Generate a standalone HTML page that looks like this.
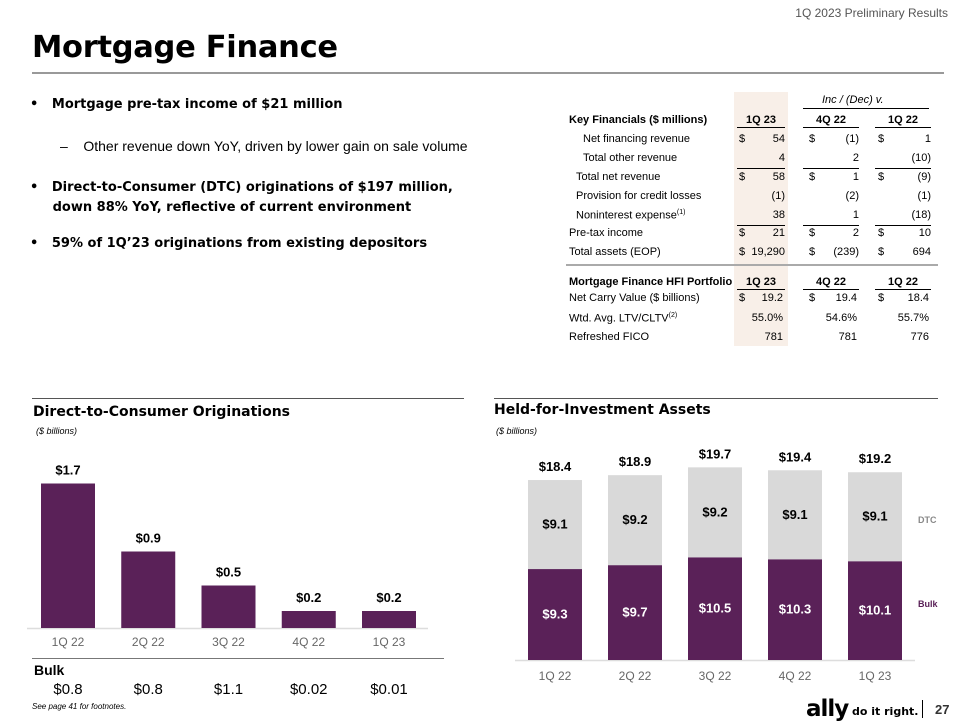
<!DOCTYPE html>
<html><head><meta charset="utf-8">
<style>
body{margin:0;width:960px;height:720px;position:relative;background:#fff;font-family:"Liberation Sans",Arial,sans-serif;overflow:hidden;color:#000}
.a{position:absolute;white-space:nowrap}
.t{font-size:11px}
.r{text-align:right}
.b{font-weight:bold}
.ul{border-bottom:1px solid #000}
</style></head><body>
<div class="a" style="right:12px;top:6px;font-size:12px;color:#555">1Q 2023 Preliminary Results</div>
<div class="a b" style="left:32px;top:30px;font-size:30.5px;font-family:'DejaVu Sans',sans-serif;letter-spacing:-0.3px">Mortgage Finance</div>
<div class="a" style="left:32px;top:72px;width:912px;height:2px;background:#999"></div>

<div class="a b" style="left:30px;top:97px;font-size:13px;font-family:'DejaVu Sans',sans-serif">•&nbsp;&nbsp;&nbsp;Mortgage pre-tax income of $21 million</div>
<div class="a" style="left:60px;top:138px;font-size:14px">–&nbsp;&nbsp;&nbsp;&nbsp;Other revenue down YoY, driven by lower gain on sale volume</div>
<div class="a b" style="left:30px;top:178px;font-size:13px;font-family:'DejaVu Sans',sans-serif;line-height:20px">•&nbsp;&nbsp;&nbsp;Direct-to-Consumer (DTC) originations of $197 million,<br>&nbsp;&nbsp;&nbsp;&nbsp;&nbsp;down 88% YoY, reflective of current environment</div>
<div class="a b" style="left:30px;top:236px;font-size:13px;font-family:'DejaVu Sans',sans-serif">•&nbsp;&nbsp;&nbsp;59% of 1Q’23 originations from existing depositors</div>

<div>
<div class="a" style="left:734px;top:92px;width:54px;height:254px;background:#f8efe8"></div>
<div class="a t" style="left:822px;top:94px;font-style:italic">Inc / (Dec) v.</div>
<div class="a" style="left:803px;top:108px;width:126px;height:1px;background:#000"></div>
<div id="tbl"></div>
<div class="a" style="left:566px;top:264px;width:372px;height:2px;background:#aaa"></div>
</div>

<div class="a" style="left:32px;top:398px;width:432px;height:1px;background:#555"></div>
<div class="a b" style="left:33px;top:404px;font-size:14px;font-family:'DejaVu Sans',sans-serif">Direct-to-Consumer Originations</div>
<div class="a" style="left:36px;top:426px;font-size:9px;font-style:italic">($ billions)</div>
<svg class="a" style="left:0;top:0" width="960" height="720" id="charts"></svg>
<div class="a" style="left:32px;top:658px;width:412px;height:1px;background:#777"></div>
<div class="a b" style="left:34px;top:662px;font-size:14px">Bulk</div>
<div class="a" style="left:32px;top:702px;font-size:8px;font-style:italic">See page 41 for footnotes.</div>

<div class="a" style="left:494px;top:398px;width:444px;height:1px;background:#555"></div>
<div class="a b" style="left:494px;top:402px;font-size:14px;font-family:'DejaVu Sans',sans-serif">Held-for-Investment Assets</div>
<div class="a" style="left:496px;top:426px;font-size:9px;font-style:italic">($ billions)</div>

<div class="a b" style="left:806px;top:696px;font-size:23px;font-family:'DejaVu Sans',sans-serif;letter-spacing:-1px">ally</div>
<div class="a b" style="left:852px;top:705px;font-size:11px;font-family:'DejaVu Sans',sans-serif">do it right.</div>
<div class="a" style="left:922px;top:700px;width:1px;height:18px;background:#000"></div>
<div class="a b" style="left:935px;top:702px;font-size:13px;color:#333">27</div>

<script>
const cats=["1Q 22","2Q 22","3Q 22","4Q 22","1Q 23"];
const dtcValues=[1.7,0.9,0.5,0.2,0.2];
const bulkOrig=["$0.8","$0.8","$1.1","$0.02","$0.01"];
const hfiBulk=[9.3,9.7,10.5,10.3,10.1];
const hfiDtc=[9.1,9.2,9.2,9.1,9.1];
const hfiTotal=[18.4,18.9,19.7,19.4,19.2];

const NS="http://www.w3.org/2000/svg";
const svg=document.getElementById('charts');
function mk(tag,attrs,txt){const e=document.createElementNS(NS,tag);for(const k in attrs)e.setAttribute(k,attrs[k]);if(txt!==undefined)e.textContent=txt;svg.appendChild(e);return e;}
const PURPLE="#5a2158";
const dX=i=>41+i*80.25, dW=54, dBase=628, dY=v=>dBase-v*85;
mk('line',{x1:27,x2:428,y1:dBase+0.5,y2:dBase+0.5,stroke:'#ddd','stroke-width':1.5});
dtcValues.forEach((v,i)=>{
  const r=mk('rect',{x:dX(i),y:dY(v),width:dW,height:dBase-dY(v),fill:PURPLE});
  
  
  const t=mk('text',{x:dX(i)+dW/2,y:dY(v)-9,'text-anchor':'middle','font-size':13,'font-weight':'bold'},'$'+v.toFixed(1));
  
  
  const c=mk('text',{x:dX(i)+dW/2,y:dBase+18,'text-anchor':'middle','font-size':12,fill:'#666'},cats[i]);
  
  
  const b=mk('text',{x:dX(i)+dW/2,y:694,'text-anchor':'middle','font-size':15},bulkOrig[i]);
  
  
});
const hX=i=>528+i*80, hW=54, hBase=660, hY=v=>hBase-v*9.78;
mk('line',{x1:515,x2:915,y1:hBase+0.5,y2:hBase+0.5,stroke:'#ddd','stroke-width':1.5});
hfiBulk.forEach((b,i)=>{
  const d=hfiDtc[i], tot=hfiTotal[i];
  const r1=mk('rect',{x:hX(i),y:hY(b),width:hW,height:hBase-hY(b),fill:PURPLE});
  
  
  const r2=mk('rect',{x:hX(i),y:hY(tot),width:hW,height:hY(b)-hY(tot),fill:'#d9d9d9'});
  
  
  const t1=mk('text',{x:hX(i)+hW/2,y:(hY(b)+hBase)/2+4,'text-anchor':'middle','font-size':13,'font-weight':'bold',fill:'#fff'},'$'+b.toFixed(1));
  
  
  const t2=mk('text',{x:hX(i)+hW/2,y:(hY(b)+hY(tot))/2+4,'text-anchor':'middle','font-size':13,'font-weight':'bold'},'$'+d.toFixed(1));
  
  
  const t3=mk('text',{x:hX(i)+hW/2,y:hY(tot)-9,'text-anchor':'middle','font-size':13,'font-weight':'bold'},'$'+tot.toFixed(1));
  
  
  const c=mk('text',{x:hX(i)+hW/2,y:hBase+20,'text-anchor':'middle','font-size':12,fill:'#666'},cats[i]);
  
  
});
const l1=mk('text',{x:918,y:523,'font-size':9,'font-weight':'bold',fill:'#888'},'DTC');


const l2=mk('text',{x:918,y:607,'font-size':9,'font-weight':'bold',fill:PURPLE},'Bulk');



const tbl=document.getElementById('tbl');
function cell(x,y,txt,cls,w,extra){const d=document.createElement('div');d.className='a t '+(cls||'');d.style.left=x+'px';d.style.top=y+'px';if(w)d.style.width=w+'px';if(extra)d.style.cssText+=extra;d.innerHTML=txt;tbl.appendChild(d);}
const rows=[
 ["Net financing revenue",583,"$","54","$","(1)","$","1",0],
 ["Total other revenue",583,"","4","","2","","(10)",1],
 ["Total net revenue",576,"$","58","$","1","$","(9)",0],
 ["Provision for credit losses",576,"","(1)","","(2)","","(1)",0],
 ["Noninterest expense<sup style='font-size:7px'>(1)</sup>",576,"","38","","1","","(18)",1],
 ["Pre-tax income",569,"$","21","$","2","$","10",0],
 ["Total assets (EOP)",569,"$","19,290","$","(239)","$","694",0]];
const ys=[133,152,171,190,209,227,246];
function hdr(y,label){
 cell(569,y,label,'b');
 cell(737,y,'1Q 23','b ul',48,'text-align:center;padding-bottom:1px');
 cell(803,y,'4Q 22','b ul',56,'text-align:center;padding-bottom:1px');
 cell(875,y,'1Q 22','b ul',56,'text-align:center;padding-bottom:1px');
}
hdr(114,'Key Financials ($ millions)');
rows.forEach((r,i)=>{const y=ys[i];
 cell(r[1],y,r[0]);
 const ul=r[8]?'border-bottom:1px solid #000;padding-bottom:4px;':'';
 cell(739,y,r[2]);cell(737,y,r[3],'r',48,ul);
 cell(809,y,r[4]);cell(803,y,r[5],'r',56,ul);
 cell(878,y,r[6]);cell(875,y,r[7],'r',56,ul);
});
hdr(276,'Mortgage Finance HFI Portfolio');
const rows2=[["Net Carry Value ($ billions)","$","19.2","$","19.4","$","18.4"],
 ["Wtd. Avg. LTV/CLTV<sup style='font-size:7px'>(2)</sup>","","55.0%","","54.6%","","55.7%"],
 ["Refreshed FICO","","781","","781","","776"]];
[292,312,331].forEach((y,i)=>{const r=rows2[i];
 cell(569,y,r[0]);cell(739,y,r[1]);cell(737,y,r[2],'r',46);cell(809,y,r[3]);cell(803,y,r[4],'r',54);cell(878,y,r[5]);cell(875,y,r[6],'r',54);});
</script>
</body></html>
